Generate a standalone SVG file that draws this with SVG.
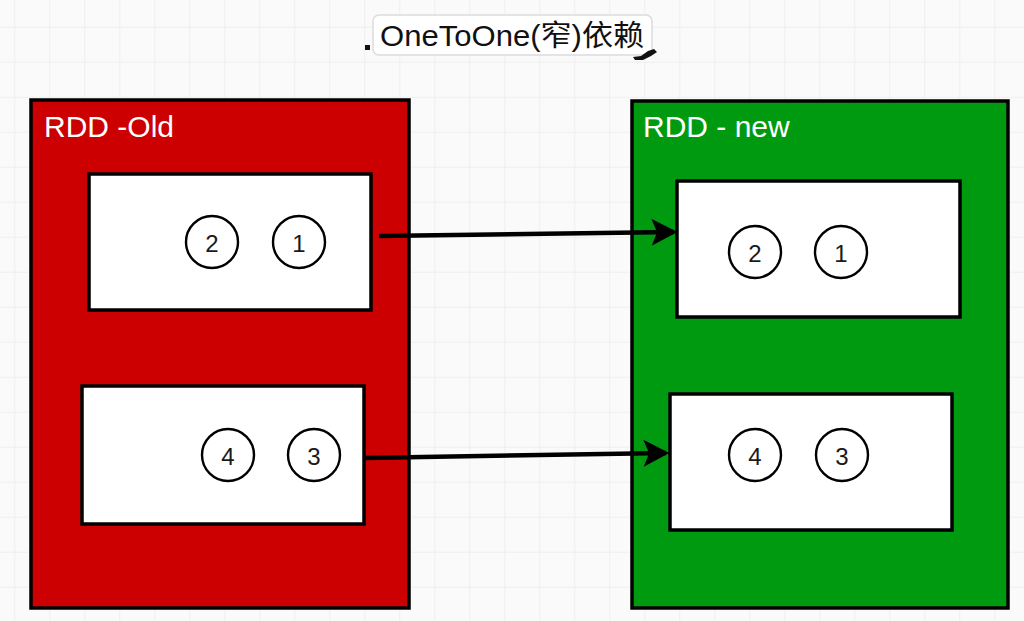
<svg xmlns="http://www.w3.org/2000/svg" width="1024" height="621" viewBox="0 0 1024 621">
  <defs>
    <pattern id="grid" x="14.3" y="26.7" width="35" height="35" patternUnits="userSpaceOnUse">
      <path d="M0 0H35M0 0V35" fill="none" stroke="#ececec" stroke-width="1.5"/>
    </pattern>
    <marker id="arrow" viewBox="0 0 12 12" refX="10" refY="6" markerWidth="6" markerHeight="6" orient="auto" markerUnits="strokeWidth">
      <path d="M0 0 L11.5 6 L0 12 L2.5 6 Z" fill="#000"/>
    </marker>
  </defs>
  <style>
    .outer { stroke: #000; stroke-width: 3.5; }
    .inner { fill: #fff; stroke: #000; stroke-width: 3.5; }
    .dot { fill: #fff; stroke: #000; stroke-width: 2.4; }
    .num { font-family: "Liberation Sans", Arial, sans-serif; font-size: 24px; fill: #1a1a1a; text-anchor: middle; dominant-baseline: central; }
    .label { font-family: "Liberation Sans", Arial, sans-serif; font-size: 30px; fill: #fff; }
    .title { font-family: "Liberation Sans", "Noto Sans CJK SC", sans-serif; font-size: 29px; fill: #111; }
    .conn { fill: none; stroke: #000; stroke-width: 4.5; marker-end: url(#arrow); }
  </style>
  <rect width="1024" height="621" fill="#fafafa"/>
  <rect width="1024" height="621" fill="url(#grid)"/>

  <g id="title">
    <rect x="373" y="15" width="279" height="40" rx="6" fill="#fff" stroke="#dcdcdc" stroke-width="1.5"/>
    <text class="title" x="380" y="46" textLength="264" lengthAdjust="spacingAndGlyphs">OneToOne(窄)依赖</text>
    <rect x="365" y="45" width="5" height="5" fill="#111"/>
    <path d="M633 57 L641 56 L648 51 L654 49 L657 52 L651 56 L643 60 L635 60 Z" fill="#111"/>
  </g>

  <g id="rdd-old">
    <rect class="outer" x="31" y="100" width="378" height="508" fill="#cc0000"/>
    <text class="label" x="44" y="137">RDD -Old</text>
  </g>

  <g id="rdd-new">
    <rect class="outer" x="632" y="101" width="376" height="507" fill="#009a10"/>
    <text class="label" x="643" y="137">RDD - new</text>
  </g>

  <g id="old-part-1">
    <rect class="inner" x="89" y="174" width="282" height="136"/>
    <circle class="dot" cx="212" cy="242" r="26"/>
    <text class="num" x="212" y="243">2</text>
    <circle class="dot" cx="299" cy="242" r="26"/>
    <text class="num" x="299" y="243">1</text>
  </g>

  <g id="old-part-2">
    <rect class="inner" x="82" y="386" width="282" height="138"/>
    <circle class="dot" cx="228" cy="455" r="26"/>
    <text class="num" x="228" y="456">4</text>
    <circle class="dot" cx="314" cy="455" r="26"/>
    <text class="num" x="314" y="456">3</text>
  </g>

  <g id="new-part-1">
    <rect class="inner" x="677" y="181" width="283" height="136"/>
    <circle class="dot" cx="755" cy="252" r="26"/>
    <text class="num" x="755" y="253">2</text>
    <circle class="dot" cx="841" cy="252" r="26"/>
    <text class="num" x="841" y="253">1</text>
  </g>

  <g id="new-part-2">
    <rect class="inner" x="670" y="394" width="282" height="136"/>
    <circle class="dot" cx="755" cy="455" r="26"/>
    <text class="num" x="755" y="456">4</text>
    <circle class="dot" cx="842" cy="455" r="26"/>
    <text class="num" x="842" y="456">3</text>
  </g>

  <g id="connectors">
    <path class="conn" d="M379 236 L674 232"/>
    <path class="conn" d="M364 458 L666 453"/>
  </g>
</svg>
